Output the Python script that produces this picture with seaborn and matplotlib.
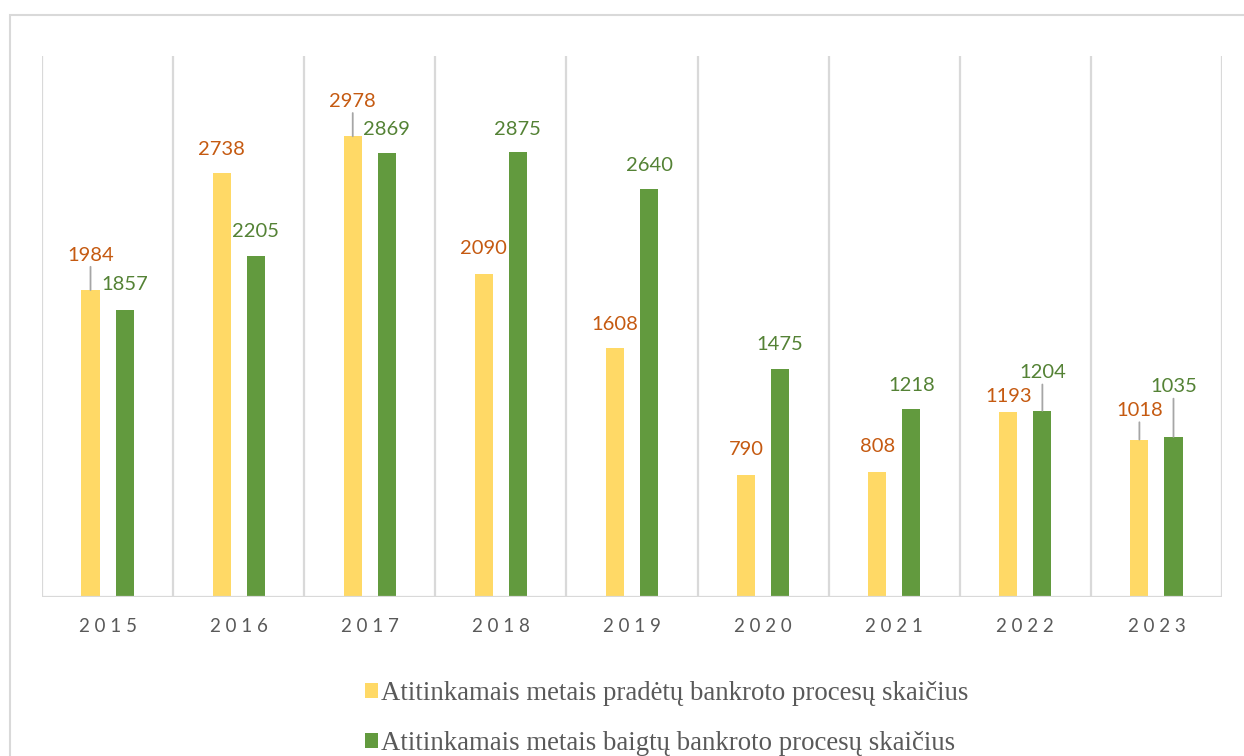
import pandas as pd
import matplotlib.pyplot as plt
import seaborn as sns
from matplotlib.patches import Rectangle, Patch

# duomenys
years = ['2015', '2016', '2017', '2018', '2019', '2020', '2021', '2022', '2023']
started = [1984, 2738, 2978, 2090, 1608, 790, 808, 1193, 1018]
finished = [1857, 2205, 2869, 2875, 2640, 1475, 1218, 1204, 1035]
series = ['Atitinkamais metais pradėtų bankroto procesų skaičius',
          'Atitinkamais metais baigtų bankroto procesų skaičius']

# label offsets above the bar top (pixels) and whether a leader line is drawn
started_dy = [35, 24, 35, 25, 24, 25, 25, 16, 29]
finished_dy = [25, 24, 24, 23, 23, 24, 23, 38, 50]
started_leader = [True, False, True, False, False, False, False, False, True]
finished_leader = [False, False, False, False, False, False, False, True, True]

bar_colors = ['#FFD966', '#629A3E']
label_colors = ['#C55A11', '#548235']
grid_color = '#D9D9D9'
text_gray = '#595959'

df = pd.DataFrame({
    'metai': years * 2,
    'reiksme': started + finished,
    'serija': [series[0]] * len(years) + [series[1]] * len(years),
})

sns.set_style('white')
plt.rcParams['font.family'] = ['Lato', 'DejaVu Sans']

fig = plt.figure(figsize=(12.44, 7.56), dpi=100)
ax = fig.add_axes([42 / 1244, 1 - 597 / 756, 1180 / 1244, 541.5 / 756])

sns.barplot(data=df, x='metai', y='reiksme', hue='serija', order=years,
            hue_order=series, palette=bar_colors, width=0.52, gap=0.47,
            linewidth=0, saturation=1, ax=ax, legend=False)

ax.set_ylim(0, 3500)
ax.set_xlim(-0.5, len(years) - 0.5)
for s in ax.spines.values():
    s.set_visible(False)
ax.set_yticks([])
ax.set_xlabel('')
ax.set_ylabel('')

# vertical separators and baseline
for i in range(len(years) + 1):
    ax.axvline(i - 0.5, color=grid_color, lw=1.6, zorder=0)
ax.axhline(0, color=grid_color, lw=1.6, zorder=3)

ax.set_xticks(range(len(years)))
ax.set_xticklabels([' '.join(y) for y in years], fontsize=13.5, color=text_gray)
ax.tick_params(axis='x', length=0, pad=15)

# data labels
for k, (vals, dys, leaders) in enumerate([(started, started_dy, started_leader),
                                          (finished, finished_dy, finished_leader)]):
    for bar, v, dy, ld in zip(ax.containers[k], vals, dys, leaders):
        xc = bar.get_x() + bar.get_width() / 2
        arrow = dict(arrowstyle='-', color='#A6A6A6', lw=1.3, shrinkA=0, shrinkB=0) if ld else None
        ax.annotate(str(v), xy=(xc, bar.get_height()), xytext=(0, dy),
                    textcoords='offset pixels', ha='center', va='center',
                    fontsize=14.5, color=label_colors[k], arrowprops=arrow)

# legend
handles = [Patch(facecolor=c, edgecolor='none') for c in bar_colors]
leg = ax.legend(handles, series, loc='upper left',
                bbox_to_anchor=(354 / 1244, 1 - 670 / 756),
                bbox_transform=fig.transFigure, frameon=False,
                prop={'family': 'Liberation Serif', 'size': 19.3},
                handlelength=0.5, handleheight=0.5, handletextpad=0.12,
                labelspacing=0.95, borderaxespad=0)
for t in leg.get_texts():
    t.set_color(text_gray)

# outer chart frame
fig.patches.append(Rectangle((9.5 / 1244, -0.1), 1.2, 1 - 14.5 / 756 + 0.1,
                             transform=fig.transFigure, fill=False,
                             edgecolor=grid_color, lw=1.5))

fig.savefig('out.png', dpi=100)
